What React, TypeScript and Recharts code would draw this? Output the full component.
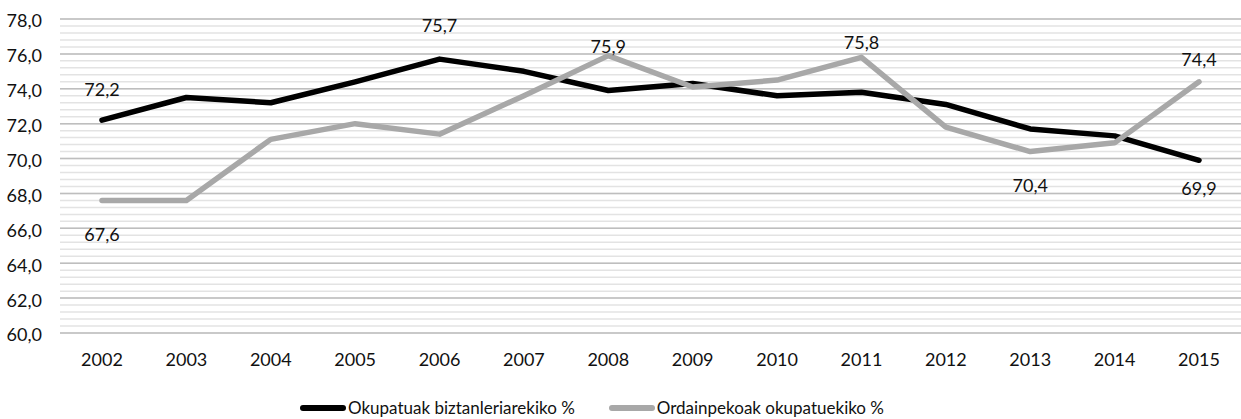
import { LineChart, Line, XAxis, YAxis, CartesianGrid, LabelList } from "recharts"

const years = ["2002", "2003", "2004", "2005", "2006", "2007", "2008", "2009", "2010", "2011", "2012", "2013", "2014", "2015"]
const okupatuak = [72.2, 73.5, 73.2, 74.4, 75.7, 75.0, 73.9, 74.3, 73.6, 73.8, 73.1, 71.7, 71.3, 69.9]
const ordainpekoak = [67.6, 67.6, 71.1, 72.0, 71.4, 73.6, 75.9, 74.1, 74.5, 75.8, 71.8, 70.4, 70.9, 74.4]
const yTicks = [60, 62, 64, 66, 68, 70, 72, 74, 76, 78]
const seriesNames = ["Okupatuak biztanleriarekiko %", "Ordainpekoak okupatuekiko %"]

const Y_MIN = 60
const Y_MAX = 78
// minor grid every 0.4
const minorTicks = Array.from({ length: 46 }, (_, i) => Math.round((Y_MIN + i * 0.4) * 10) / 10)

const data = years.map((year, i) => ({
  year,
  okupatuak: okupatuak[i],
  ordainpekoak: ordainpekoak[i],
}))

const BLACK = "#000000"
const GREY = "#A8A8A8"
const FONT = "Lato, 'Open Sans', sans-serif"

const fmt = (v: number) => v.toFixed(1).replace(".", ",")

// which points carry a value label, and how far above (-) / below (+) it sits
const blackLabels: Record<number, number> = { 0: -31, 4: -34, 13: 28 }
const greyLabels: Record<number, number> = { 0: 34, 6: -10, 9: -15, 11: 33, 13: -23 }

function makeLabel(shown: Record<number, number>) {
  return (props: any) => {
    const { index, value } = props
    if (!(index in shown)) return null
    const x = props.x ?? props.viewBox?.x
    const y = props.y ?? props.viewBox?.y
    return (
      <text
        x={x}
        y={y + shown[index]}
        textAnchor="middle"
        dominantBaseline="central"
        fontSize={18}
        fill="#111"
        fontFamily={FONT}
      >
        {fmt(Number(value))}
      </text>
    )
  }
}

// minor gridlines, placed on the same linear scale as the value axis
const minorLines = ({ offset }: any) =>
  minorTicks.map((t) => offset.top + (offset.height * (Y_MAX - t)) / (Y_MAX - Y_MIN))

function LegendItem({ color, label }: { color: string; label: string }) {
  return (
    <div style={{ display: "flex", alignItems: "center" }}>
      <div style={{ width: 46, height: 6, borderRadius: 3, background: color, marginRight: 2 }} />
      <span>{label}</span>
    </div>
  )
}

export default function App() {
  return (
    <div style={{ position: "absolute", left: 0, top: 0, width: 1241, height: 419, fontFamily: FONT, background: "#fff" }}>
      <LineChart
        width={1241}
        height={419}
        data={data}
        margin={{ top: 19, right: 0, left: 0, bottom: 46 }}
      >
        <CartesianGrid
          vertical={false}
          stroke="#E3E3E3"
          strokeWidth={1.5}
          horizontalCoordinatesGenerator={minorLines}
        />
        <CartesianGrid vertical={false} stroke="#BEBEBE" strokeWidth={1.5} />
        <XAxis
          dataKey="year"
          axisLine={false}
          tickLine={false}
          tickSize={0}
          tickMargin={20}
          height={40}
          padding={{ left: 42, right: 42 }}
          tick={{ fill: "#111", fontSize: 18 }}
        />
        <YAxis
          domain={[Y_MIN, Y_MAX]}
          ticks={yTicks}
          type="number"
          width={60}
          axisLine={false}
          tickLine={false}
          tickSize={0}
          tickMargin={18}
          tickFormatter={fmt}
          tick={{ fill: "#111", fontSize: 18, dy: 2 }}
        />
        <Line
          dataKey="okupatuak"
          name={seriesNames[0]}
          stroke={BLACK}
          strokeWidth={5.5}
          strokeLinecap="round"
          strokeLinejoin="round"
          dot={false}
          isAnimationActive={false}
        >
          <LabelList dataKey="okupatuak" content={makeLabel(blackLabels)} />
        </Line>
        <Line
          dataKey="ordainpekoak"
          name={seriesNames[1]}
          stroke={GREY}
          strokeWidth={5.5}
          strokeLinecap="round"
          strokeLinejoin="round"
          dot={false}
          isAnimationActive={false}
        >
          <LabelList dataKey="ordainpekoak" content={makeLabel(greyLabels)} />
        </Line>
      </LineChart>
      <div
        style={{
          position: "absolute",
          top: 398,
          left: 300,
          display: "flex",
          gap: 34,
          fontSize: 17,
          color: "#111",
          lineHeight: "20px",
        }}
      >
        <LegendItem color={BLACK} label={seriesNames[0]} />
        <LegendItem color={GREY} label={seriesNames[1]} />
      </div>
    </div>
  )
}
